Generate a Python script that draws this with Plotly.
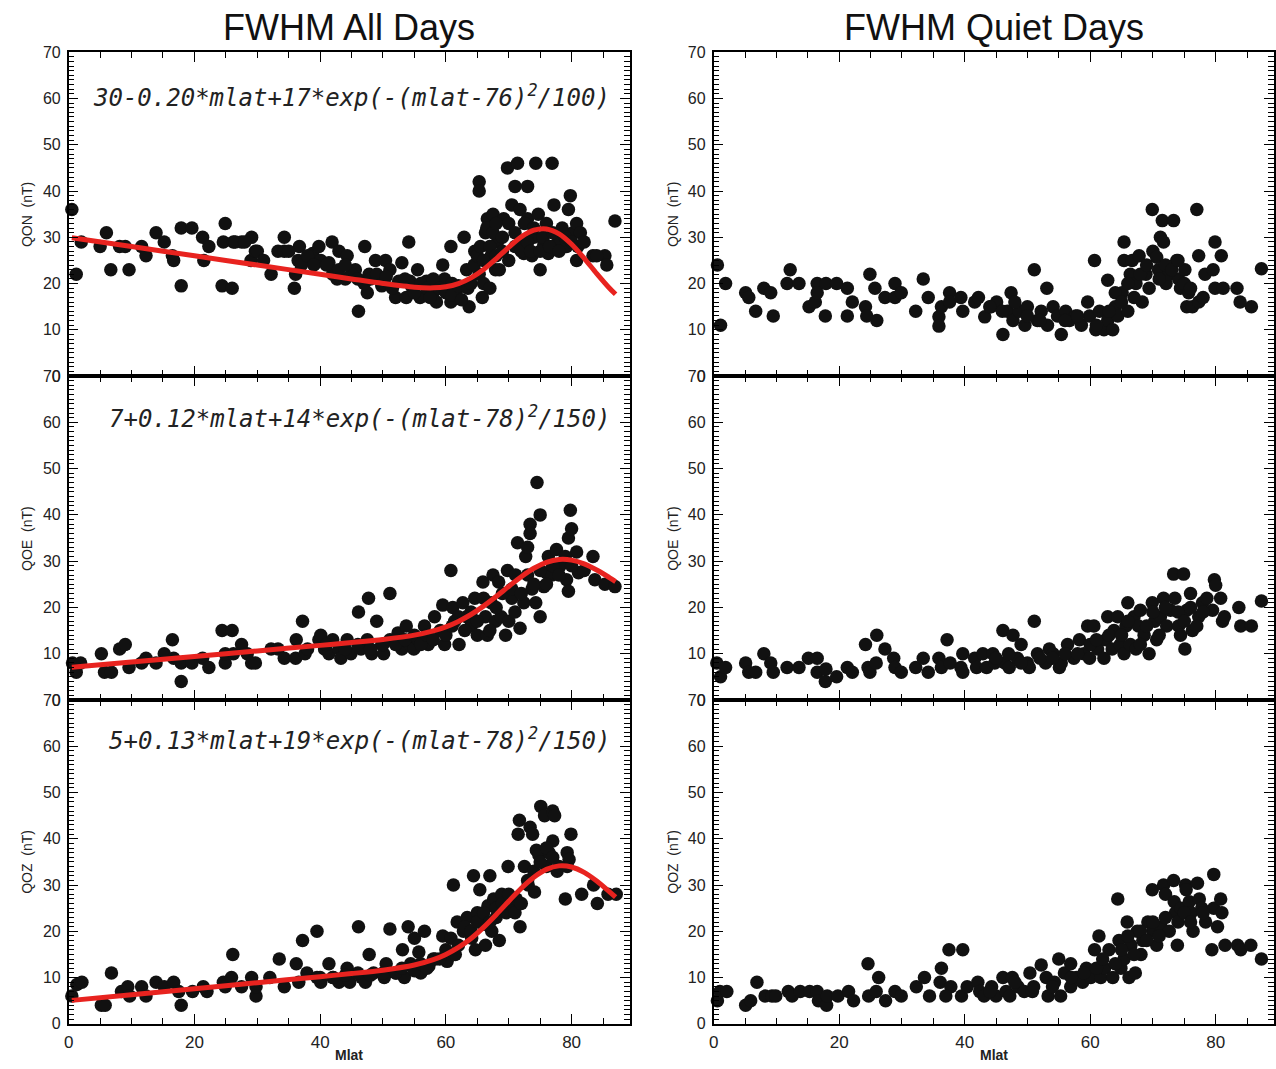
import plotly.graph_objects as go

# ---------------- data ----------------
qon_all = [
(0.5,36),(1.2,22),(2,29),(5,28),(6,31),(6.7,23),(8.1,28),(9,28),(9.6,23),(11.6,28),(12.3,26),(13.9,31),
(15.2,29),(16.5,26),(16.7,25),(17.9,32),(17.9,19.5),(19.6,32),(21.3,30),(21.5,25),(22.3,28),(24.4,19.5),
(24.9,33),(24.6,29),(26,19),(26.2,29),(27.5,29),(29.1,30),(29,25),(29.7,27),(32.2,22),(33.3,27),(34.3,30),
(34.3,27),(35.9,19),(36.1,22),(36.7,28),(36.5,25),(37.6,25),(38.8,26.5),(39.8,28),(40.1,25),(41.4,24.5),
(41.9,29),(43,27),(44.3,26),(42.7,21),(45.6,23),(46.1,14),(47.1,28),(47.5,18),(47.8,22),(48.8,25),(49.8,19.5),
(50.4,25),(51.1,23),(52,17),(53,24.5),(53.7,17),(54.1,29),(54.3,20.5),(55.5,23),(55.9,17),(56.9,20.5),
(58.2,18.5),(58.5,16),(59.5,24),(59.8,21),(60.8,28),(60.8,16),(61.7,18.5),(62.9,30),(63.3,23),(63.7,15),
(64.6,27),(65.3,42),(65.3,40),(65.3,22),(65.8,17),(66.3,31),(66.6,34),(67.2,26),(67.5,35),(67.9,23),(68.2,29),
(68.5,23),(69.2,34),(69.8,45),(70.5,37),(71,41),(71.4,46),(71.8,36),(72.1,29),(72.4,26.5),(73,41),(73,34),
(73.7,26),(74,30),(74.3,46),(74.7,35),(75,23),(75.6,28.5),(76.3,26.5),(76.9,46),(77.2,37),(77.6,28.5),(78.2,29),
(79.2,28),(79.5,36),(79.8,39),(80.2,31),(80.8,33),(80.8,25),(81.4,31),(83.4,26),(85.3,26),(85.6,24),(86.9,33.5),
(42,22),(43,21.5),(44,21),(45,22),(46,21),(47,20),(48,21),(49,22),(50,20),(50.5,21.5),(51.5,19),(52.5,20.5),
(53.5,21),(54.5,19.5),(55,18),(56,20),(57,19),(57.5,17),(58,21),(59,19),(60,18),(61,20),(61,17.5),(62,19.5),
(62.5,16.5),(63.5,19),(64,20),(64.5,24),(65,26),(65.5,28),(66,20),(66,25),(66.5,32),(67,19),(67,28),(67.5,31),
(68,26),(68,33),(69,27),(69,30),(70,25),(70,33),(71,28),(71,31),(72,27),(72.5,33),(73,29),(73.5,27),(74,32),
(75,27),(75.5,30),(76,33),(76.5,28),(77,31),(78,27),(78.5,32),(79,30),(80,29),(81,28),(82,29),(84,26),
(26.5,29),(28,29),(30,27),(31,25),(35,27),(37,24),(38,26),(39,24),(41,24),(43,23),(44,24),
]

qoe_all = [
(0.6,8),(1.2,6),(1.9,8),(5.2,10),(5.7,6),(6.8,6),(8.1,11),(9,12),(9.6,7),(11.6,8),(12.3,9),(13.9,8),(15.2,10),
(16.5,13),(16.7,9),(17.9,4),(17.9,8),(19.6,8),(21.3,9),(22.3,7),(24.4,15),(24.9,8),(24.9,10),(26,15),(26.2,10),
(27.5,12),(28.4,10),(29.1,8),(29.7,8),(32.2,11),(33.3,11),(34.3,9),(36.2,13),(36.1,9),(37.2,17),(37.6,10),
(39.8,13),(40.1,14),(40.7,11),(41.4,10),(42,13),(43,11),(43.3,9),(44.3,13),(44.9,10),(46.1,19),(46.5,11),
(47.5,13),(47.7,22),(48.2,10),(49,17),(49.8,12),(50.1,10),(51.1,23),(51.1,13),(52.4,14.5),(53,11),(53.7,16),
(54.3,12),(54.9,11),(55.6,13),(56.6,16),(57.2,12),(58.2,18),(59.1,15),(59.5,20.5),(59.8,12),(60.8,28),(61.1,20),
(61.4,17),(62.1,12),(62.7,21),(63.3,18),(64,16),(64.6,22),(65,14),(65.9,25.5),(66.3,18),(66.6,14),(67.2,21),
(67.5,27),(67.9,17),(68.4,25.5),(68.8,18),(69.5,14),(69.8,28),(70.5,22),(71.1,27),(71.4,34),(71.8,15.5),
(72.4,21),(72.7,31),(73,33),(73.4,38),(73.4,36),(73.7,24),(74.3,21),(74.5,47),(75,40),(75,18),(75.6,24.5),
(76,27.5),(76.3,31),(76.9,27),(77.6,32.5),(78.2,29),(79.2,26),(79.5,23.5),(79.5,35),(79.8,41),(80,37),(80.8,32),
(81.1,27.5),(83.4,31),(83.7,26),(85.3,25),(86.9,24.5),
(38,11),(41,12),(44,11),(46,12),(48,11),(50,12),(52,12),(53.5,13),(55,14),(56,12),(57,14),(58,13),(60,14),
(61,16),(62,18),(63,15),(64,19),(65,17),(66,22),(67,15),(68,20),(69,23),(70,17),(70.5,24),(71,19),(72,23),
(73,27),(74,25),(75,28),(76,25),(77,29),(78,27),(79,31),(80,29),(82,28),
]

qoz_all = [
(0.5,6),(1.3,8.5),(2.1,9),(5.2,4),(5.8,4),(6.8,11),(8.4,7),(9.4,8),(9.7,6),(11.6,8),(12.3,6),(13.9,9),(15.2,8),
(16.7,9),(17.5,7),(17.9,4),(19.7,7),(21.4,8),(22,7),(24.6,9),(24.9,8),(25.9,10),(26.1,15),(27.5,8),(29.1,10),
(29.8,6),(29.8,8),(32,10),(33.5,14),(34.3,8),(36.2,13),(37.2,18),(36.6,9),(37.9,11),(39.5,20),(39.5,10),(40.1,9),
(41.4,13),(42.1,10),(43,9),(44.3,12),(44.7,9),(46.1,21),(46.6,10),(47.2,9),(47.8,15),(48.5,11),(50.2,10),
(50.5,13),(51.1,20.5),(52.1,11),(53.1,16),(53.4,10),(54,21),(54.4,13),(55,18.5),(55.7,15.5),(56,11),(56.6,20),
(57.3,12.5),(58.3,14),(59.5,19),(60.2,13.5),(60.8,18.5),(61.2,30),(61.5,15),(61.8,22),(62.8,20),(63.4,23),
(64.1,18.5),(64.4,32),(64.7,16),(65,24),(65.4,29),(66,21.5),(66.3,17),(66.7,25.5),(67,32),(67.3,20),(67.6,27),
(68,23),(68.5,18),(68.9,28),(69.6,24),(69.9,34),(70.6,25.5),(71.2,27),(71.5,41),(71.7,44),(71.8,21),(72.5,34),
(73.1,30),(73.4,42.5),(73.8,41),(74.1,28.5),(74.4,37.5),(74.8,36.5),(75.1,47),(75.7,45),(76,34),(76.4,37),
(77,46),(77,39.5),(77.3,45),(77.7,33),(79,27),(79.3,37),(79.3,34),(79.9,41),(79.6,35.5),(81.6,28),(83.5,30),
(84.1,26),(85.8,28),(87.1,28),
(40,10),(42,10),(44,10.5),(46,11),(48,10.5),(50,11),(52,11),(53,12),(55,11.5),(56,13),(57,12),(58,14),(59,14),
(60,16),(62,17),(63,21),(64,20),(65,22),(66,24),(67,22),(68,25),(69,26),(70,28),(71,24),(72,26),(73,31),
(74,33),(75,35),(76,38),(77,36),(78,34),
]

qon_quiet = [
(0.6,24),(1.1,11),(1.9,20),(5.1,18),(5.6,17),(6.7,14),(8,19),(9.1,18),(9.5,13),(11.7,20),(12.2,23),(13.6,20),
(15.2,15),(16.2,16),(16.5,20),(16.5,18),(17.8,13),(17.9,20),(19.6,20),(21.3,19),(21.3,13),(22.1,16),(24.2,15),
(24.4,13),(24.9,22),(25.7,19),(26,12),(27.3,17),(28.9,20),(28.9,17),(29.9,18),(32.2,14),(33.4,21),(34.2,17),
(35.9,12.8),(35.9,10.8),(36.3,15),(37.6,18),(37.6,16),(39.4,17),(39.7,14),(41.6,16),(42.2,17),(43.2,12.8),
(44.2,15),(45.1,16),(46.1,9),(46.8,14),(47.4,18),(47.7,12),(48.7,14),(49.6,11),(50,15),(51.1,23),(51.6,12),
(52.2,14),(53.1,19),(53.2,11),(54.1,15),(54.8,13),(55.4,9),(56.1,14),(56.7,12),(57.7,13),(58.6,11),(59.6,16),
(59.9,13),(60.7,25),(60.9,10),(61.5,14),(62.2,10),(62.8,20.7),(62.8,12),(63.6,10),(64,15),(64.4,13),(65.1,18),
(65.4,29),(65.4,25),(66,14),(66.4,22),(66.7,25),(67.3,20),(67.8,26),(68.3,16),(68.9,22),(69.4,19),(69.9,36),
(70,27),(70.6,25.7),(70.9,23),(71.2,30),(71.5,33.6),(71.7,29),(72.1,20),(72.5,22),(73.3,33.6),(73.8,25),
(74.1,21),(74.4,19),(75.1,23),(75.4,15),(75.7,18),(76.3,15),(77,36),(77.3,26),(77.3,16),(78.3,22),(79.6,23),
(79.9,29),(79.9,19),(80.9,26),(81.2,19),(83.4,19),(83.9,16),(85.7,15),(87.3,23.2),
(44,15),(46,14),(48,16),(50,13),(52,12),(56,12),(58,13),(61,11),(63,14),(64,18),(65,16),(66,20),(67,17),
(68,22),(69,24),(71,21),(72,24),(73,23),(74,25),(75,20),(76,19),(78,17),
]

qoe_quiet = [
(0.5,8),(1.1,5),(1.9,7),(5.1,8),(5.6,6),(6.7,6),(8,10),(9.1,8),(9.5,6),(11.7,7),(13.6,7),(15.1,9),(16.5,9),
(16.5,6),(17.8,4),(17.9,6.7),(19.6,5),(21.3,7),(22.1,6),(24.2,12),(24.6,7),(24.9,6),(25.9,8),(26,14),(27.3,11),
(28.7,9),(28.9,7),(29.9,6),(32.2,7),(33.4,9),(34.2,6),(35.9,9),(36.3,7),(37.2,13),(37.7,8),(39.4,7),(39.7,6),
(39.7,10),(41.6,9),(41.9,7),(42.9,10),(43.5,7),(44.5,10),(44.8,8),(46.1,15),(46.4,8),(47.1,7),(47.7,14),
(48.4,9),(49,12),(50,8),(50.3,7),(51.1,17),(51.6,10),(52.9,8),(53.5,11),(54.1,10),(55.1,7),(55.4,8),(56.4,12),
(57.4,9),(58.3,13),(59,10),(59.6,16),(59.9,9),(60.6,16),(61.2,11),(62.2,9),(62.5,13),(62.8,18),(63.5,11),
(63.8,15),(64.4,18),(64.8,12),(65.4,10),(65.7,16),(66,21),(66.4,12),(67,18),(67.3,11),(67.7,16),(68,19.4),
(68.6,14),(69.4,10),(69.9,21),(70.3,17),(70.6,13),(71.2,18),(71.7,22),(72.2,16),(72.8,19.4),(73.3,27.2),
(73.5,22),(74.1,16),(74.4,14),(74.9,27.2),(75.1,11),(75.4,19.4),(76,23),(76.3,15),(77.3,18),(77.9,21),
(78.6,22),(79.5,19.4),(79.8,26),(80,24.8),(80.8,22),(81.1,17),(81.4,18),(83.7,20),(84,16),(85.7,16),(87.3,21.4),
(45,9),(47,10),(49,8),(52,9),(54,9),(56,10),(58,10),(60,12),(61,13),(63,14),(65,14),(66,17),(68,12),(69,16),
(70,19),(71,14),(72,20),(74,19),(75,17),(76,20),(77,16),(78,19),
]

qoz_quiet = [
(0.6,5),(1,7),(2.1,7),(5.1,4),(5.9,5),(6.9,9),(8.2,6),(9.3,6),(9.9,6),(11.9,7),(12.5,6),(13.8,7),(15.3,7),
(16.5,7),(16.7,5),(18,4),(18.1,6),(19.8,6),(21.5,7),(22.3,5),(24.6,13),(24.7,6),(25.9,7),(26.3,10),(27.4,5),
(28.9,7),(29.9,6),(32.3,8),(33.6,10),(34.4,6),(36.3,12),(36.1,9),(37.5,16),(37.8,8),(37,6),(39.5,6),(39.7,16),
(40.4,8),(42.1,9),(42.4,7),(43.1,6),(44.3,8),(45,6),(46.1,10),(46.6,7),(47.2,6),(47.6,10),(48.5,8),(49.5,7),
(50.4,11),(50.8,7),(52.2,12.7),(53,10),(53.3,6),(54.3,9),(55,14),(55.3,6),(55.9,11),(56.9,13),(56.9,8),
(57.8,10),(58.8,9),(59.4,12),(60.1,10),(60.7,16),(61.4,19),(61.7,10),(62.3,12),(63,16),(63.6,10),(64.4,27),
(64.6,18),(64.9,12),(65.4,14),(65.9,22),(66.2,10),(66.5,17),(67.2,11),(67.5,20),(68.1,15),(68.4,18),(69.2,22),
(69.9,29),(70,20),(70.6,17),(71.3,21),(71.7,30),(72,28),(72.6,20),(73.3,31),(73.4,26.4),(73.6,24),(73.9,17),
(74.5,25),(75.2,30),(75.3,29),(75.8,26.4),(76.1,24),(76.4,20),(77.1,30.4),(77.4,27),(77.8,25),(78.4,22),
(79.4,16),(79.7,32.3),(79.7,25),(80.3,21),(80.8,27),(81,24),(81.5,17),(83.5,17),(84,16),(85.6,17),(87.3,14),
(44,7),(48,9),(51,8),(54,8),(57,10),(59,11),(61,12),(62,14),(64,13),(65,16),(66,19),(67,15),(68,20),(69,18),
(70,22),(71,19),(72,23),(74,22),(75,24),(76,22),(78,24),
]

# fitted curves (sampled along mlat)
fit_mlat = [0.5, 10, 20, 30, 40, 45, 50, 55, 58, 60, 62, 64, 66, 68, 70, 72, 74, 76, 78, 80, 82, 84, 86, 87]
qon_fit = [29.9, 28.0, 26.0, 24.0, 22.0, 21.0, 20.02, 19.21, 19.07, 19.31, 20.0, 21.23, 23.05, 25.36, 27.86,
           30.09, 31.53, 31.8, 30.73, 28.49, 25.46, 22.16, 19.05, 17.67]
qoe_fit = [7.06, 8.2, 9.4, 10.6, 11.8, 12.41, 13.08, 14.01, 14.93, 15.81, 16.98, 18.47, 20.28, 22.35, 24.54,
           26.65, 28.46, 29.75, 30.36, 30.23, 29.42, 28.09, 26.46, 25.60]
qoz_fit = [5.07, 6.3, 7.6, 8.9, 10.2, 10.86, 11.6, 12.71, 13.86, 14.99, 16.51, 18.46, 20.86, 23.59, 26.5,
           29.31, 31.7, 33.38, 34.14, 33.9, 32.74, 30.87, 28.58, 27.38]

formulas = [
    "30-0.20*mlat+17*exp(-(mlat-76)<sup>2</sup>/100)",
    "7+0.12*mlat+14*exp(-(mlat-78)<sup>2</sup>/150)",
    "5+0.13*mlat+19*exp(-(mlat-78)<sup>2</sup>/150)",
]
ylabels = ["QON  (nT)", "QOE  (nT)", "QOZ  (nT)"]
col_titles = ["FWHM All Days", "FWHM Quiet Days"]
x_ticks = [0, 20, 40, 60, 80]

# ---------------- figure ----------------
W, H = 1276, 1069


def py(t):
    """target pixel row (from top) -> paper fraction, with small vertical calibration"""
    return 1 - ((t - 7.2) / 0.986) / H


fig = go.Figure()

panels = [
    (qon_all, qon_fit), (qon_quiet, None),
    (qoe_all, qoe_fit), (qoe_quiet, None),
    (qoz_all, qoz_fit), (qoz_quiet, None),
]

for i, (pts, fit) in enumerate(panels):
    k = i + 1
    xa = "x" if k == 1 else f"x{k}"
    ya = "y" if k == 1 else f"y{k}"
    fig.add_trace(go.Scatter(
        x=[p[0] for p in pts], y=[p[1] for p in pts], mode="markers",
        marker=dict(size=13.5, color="#111111", line=dict(width=0)),
        xaxis=xa, yaxis=ya, showlegend=False, cliponaxis=False))
    if fit is not None:
        fig.add_trace(go.Scatter(
            x=fit_mlat, y=fit, mode="lines",
            line=dict(color="#e8231f", width=5, shape="spline", smoothing=0.8),
            xaxis=xa, yaxis=ya, showlegend=False))

# domains (pixel based)
col_x = [(64 / W, 628 / W), (712 / W, 1275 / W)]
row_y = [(py(376), py(51.5)), (py(700.5), py(376)), (py(1025), py(700.5))]

tickfont = dict(family="Liberation Sans, Arial, sans-serif", size=16, color="#222")
layout = dict(
    width=W, height=H, margin=dict(l=0, r=0, t=0, b=0),
    paper_bgcolor="white", plot_bgcolor="white", showlegend=False,
)
for i in range(6):
    k = i + 1
    r, c = divmod(i, 2)
    xkey = "xaxis" if k == 1 else f"xaxis{k}"
    ykey = "yaxis" if k == 1 else f"yaxis{k}"
    layout[xkey] = dict(
        domain=list(col_x[c]), anchor="y" if k == 1 else f"y{k}",
        range=[0, 89.3], tickvals=x_ticks, showticklabels=(r == 2),
        ticks="inside", ticklen=10, tickwidth=1.3, tickcolor="black",
        minor=dict(dtick=5, tick0=0, ticks="inside", ticklen=6, tickwidth=1.1, tickcolor="black"),
        showline=True, linecolor="black", linewidth=1.6, mirror="ticks",
        showgrid=False, zeroline=False, tickfont=dict(tickfont, size=17), ticklabelstandoff=2,
    )
    layout[ykey] = dict(
        domain=list(row_y[r]), anchor="x" if k == 1 else f"x{k}",
        range=[0, 70], dtick=10, tick0=0,
        ticks="inside", ticklen=10, tickwidth=1.3, tickcolor="black",
        minor=dict(dtick=1, tick0=0, ticks="inside", ticklen=6, tickwidth=1.1, tickcolor="black"),
        showline=True, linecolor="black", linewidth=1.6, mirror="ticks",
        showgrid=False, zeroline=False, tickfont=tickfont, ticklabelstandoff=3,
    )
fig.update_layout(**layout)

ann = []
# column titles
for c, t in enumerate(col_titles):
    xc = (col_x[c][0] + col_x[c][1]) / 2
    ann.append(dict(text=t, x=xc, y=py(27), xref="paper", yref="paper",
                    xanchor="center", yanchor="middle", showarrow=False,
                    font=dict(family="Liberation Sans, Arial, sans-serif", size=36, color="#111")))
# formulas
for r, f in enumerate(formulas):
    ypix = [95, 417, 740][r]
    ann.append(dict(text="<i>" + f + "</i>", x=610 / W, y=py(ypix), xref="paper", yref="paper",
                    xanchor="right", yanchor="middle", showarrow=False,
                    font=dict(family="DejaVu Sans Mono, monospace", size=24, color="#222")))
# y labels
for r, lab in enumerate(ylabels):
    yc = (row_y[r][0] + row_y[r][1]) / 2
    for xpix in (22, 671):
        ann.append(dict(text=lab, x=xpix / W, y=yc, xref="paper", yref="paper",
                        xanchor="center", yanchor="middle", showarrow=False, textangle=-90,
                        font=dict(family="Liberation Sans, Arial, sans-serif", size=14, color="#222")))
# x labels
for c in range(2):
    xc = (col_x[c][0] + col_x[c][1]) / 2
    ann.append(dict(text="<b>Mlat</b>", x=xc, y=0, xref="paper", yref="paper",
                    xanchor="center", yanchor="bottom", yshift=-4, borderpad=0, showarrow=False,
                    font=dict(family="Liberation Sans, Arial, sans-serif", size=14, color="#222")))
fig.update_layout(annotations=ann)

fig.write_html("out.html")
